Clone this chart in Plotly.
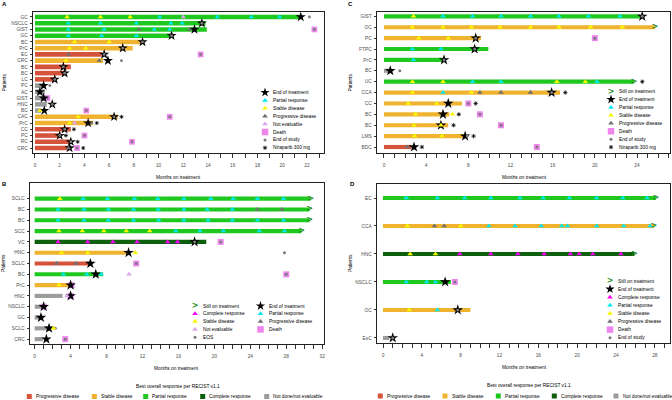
import plotly.graph_objects as go

W, H = 672, 400

# ---------------- data (months on treatment) ----------------
A_patients = ["GC", "NSCLC", "GIST", "GC", "BC", "PrC", "EC", "CRC", "BC", "BC", "LC",
              "PC", "AC", "GIST", "HNC", "BC", "CAC", "PrC", "CC", "PC", "RC", "CRC"]
A_months = [21.4, 13.8, 13.9, 11.2, 8.8, 7.9, 5.4, 5.5, 2.9, 2.45, 1.6,
            0.8, 0.8, 0.8, 0.95, 0.5, 6.7, 4.7, 2.9, 2.0, 2.9, 2.8]
A_best = ["PR", "PR", "PR", "PR", "SD", "SD", "PD", "SD", "PD", "PD", "PD",
          "NE", "NE", "NE", "NE", "NE", "SD", "SD", "PD", "PD", "PD", "PD"]
A_ongoing = []
A_end_treatment = [(0, 21.5), (1, 13.5), (2, 12.9), (3, 11.05), (4, 8.7), (5, 7.1), (6, 5.6),
                   (7, 5.9), (8, 2.3), (9, 2.4), (10, 1.6), (11, 0.7), (12, 0.4), (13, 0.7),
                   (14, 1.4), (15, 0.75), (16, 6.4), (17, 4.3), (18, 2.4), (19, 2.0), (20, 2.9), (21, 2.8)]
A_partial = [(0, 10.1), (0, 14.75), (0, 17.5), (0, 19.8), (1, 2.7), (1, 5.3), (1, 8.2), (1, 11.0),
             (1, 11.9), (2, 2.7), (2, 5.6), (2, 9.65), (2, 10.9), (3, 2.7), (3, 5.4), (3, 8.2)]
A_stable = [(0, 2.6), (0, 5.3), (0, 7.7), (4, 3.2), (4, 6.0), (5, 2.8), (5, 4.1), (7, 2.5),
            (15, 0.4), (16, 3.5), (17, 2.8)]
A_progressive = [(2, 8.4), (2, 12.5), (6, 2.7), (7, 5.2), (21, 2.7)]
A_complete = []
A_not_evaluable = [(0, 12.0), (17, 3.2)]
A_death = [(2, 22.6), (6, 13.4), (13, 1.0), (15, 4.15), (16, 10.9), (19, 4.0), (20, 7.85), (21, 3.4)]
A_end_study = [(0, 22.2), (1, 13.5), (3, 11.05), (4, 8.7), (5, 7.1), (6, 5.6), (7, 7.0), (8, 2.3),
               (9, 2.4), (10, 1.6), (11, 1.2), (14, 1.4), (16, 6.4), (17, 4.6), (18, 2.4),
               (19, 2.0), (20, 2.9)]
A_niraparib = [(16, 7.0), (17, 5.0), (18, 3.15), (19, 2.5), (20, 3.45), (21, 3.9)]

B_patients = ["SCLC", "BC", "BC", "SCC", "VC", "HNC", "SCLC", "BC", "PrC", "HNC",
              "NSCLC", "GC", "SCLC", "CRC"]
B_months = [30.7, 30.6, 30.6, 29.7, 19.1, 10.5, 6.2, 7.6, 3.8, 3.1, 0.85, 0.5, 1.8, 0.9]
B_best = ["PR", "PR", "PR", "PR", "CR", "SD", "PD", "PR", "SD", "NE", "NE", "NE", "NE", "NE"]
B_ongoing = [0, 1, 2, 3]
B_end_treatment = [(4, 17.8), (5, 10.45), (6, 6.2), (7, 6.8), (8, 4.0), (9, 4.0), (10, 1.0),
                   (11, 0.7), (12, 1.6), (13, 1.3)]
B_partial = [(0, 5.4), (0, 8.1), (0, 11.1), (0, 13.7), (0, 16.6), (0, 19.6), (0, 22.1), (0, 24.8),
             (0, 27.7), (1, 2.6), (1, 5.5), (1, 8.2), (1, 11.0), (1, 13.75), (1, 16.6), (1, 19.2),
             (1, 22.0), (2, 2.6), (2, 5.5), (2, 8.2), (2, 11.0), (2, 13.8), (2, 16.6), (2, 19.3),
             (2, 22.0), (2, 24.8), (2, 27.7), (3, 15.7), (3, 18.4), (3, 21.0), (3, 25.0), (3, 27.8),
             (7, 3.2), (7, 5.8), (7, 7.4)]
B_stable = [(0, 2.8), (3, 2.7), (3, 5.3), (3, 7.7), (3, 10.2), (3, 12.8), (5, 3.0), (5, 5.9),
            (5, 11.2), (8, 2.7), (12, 2.1)]
B_progressive = [(1, 24.8), (1, 27.5), (6, 2.45), (6, 4.6)]
B_complete = [(4, 2.6), (4, 5.9), (4, 8.7), (4, 11.4), (4, 14.8), (4, 15.9)]
B_not_evaluable = [(7, 10.5), (9, 3.6)]
B_death = [(4, 20.7), (6, 11.3), (7, 28.0), (8, 4.1), (9, 4.0), (10, 1.0), (13, 3.4)]
B_end_study = [(4, 17.8), (5, 27.8), (12, 2.3)]
B_niraparib = []

C_patients = ["GIST", "OC", "PC", "FTPC", "PrC", "BC", "UC", "CCA", "CC", "BC", "BC", "LMS", "BDC"]
C_months = [24.3, 25.7, 9.2, 9.9, 5.6, 0.4, 23.7, 16.7, 7.4, 6.2, 6.1, 7.8, 2.6]
C_best = ["PR", "SD", "SD", "PR", "PR", "NE", "PR", "SD", "SD", "SD", "SD", "SD", "PD"]
C_ongoing = [1, 6]
C_end_treatment = [(0, 24.5), (2, 8.7), (3, 8.6), (4, 5.7), (5, 0.6), (7, 15.9), (8, 6.1),
                   (9, 5.6), (10, 5.4), (11, 7.7), (12, 2.85)]
C_partial = [(0, 5.6), (0, 8.4), (0, 11.1), (0, 13.9), (0, 16.6), (0, 19.4), (0, 22.4), (3, 2.7),
             (3, 5.4), (4, 2.8), (6, 8.4), (6, 11.1), (6, 20.2), (7, 5.6)]
C_stable = [(0, 2.8), (1, 2.7), (1, 5.6), (1, 8.3), (1, 11.0), (1, 13.9), (1, 16.6), (1, 19.6),
            (1, 22.6), (2, 3.3), (2, 6.1), (6, 2.7), (6, 5.6), (6, 16.4), (6, 19.1), (7, 2.7),
            (7, 8.3), (8, 2.3), (8, 5.0), (9, 3.0), (9, 6.5), (10, 2.85), (10, 5.4), (11, 2.9), (11, 5.5)]
C_progressive = [(7, 9.1), (7, 11.1), (7, 13.9), (12, 2.2)]
C_complete = []
C_not_evaluable = []
C_death = [(2, 20.0), (8, 8.0), (9, 9.1), (10, 11.1), (12, 14.5)]
C_end_study = [(0, 24.5), (2, 8.7), (3, 8.6), (4, 5.7), (5, 1.5), (7, 15.9), (11, 7.9)]
C_niraparib = [(6, 24.5), (7, 17.2), (8, 8.7), (9, 7.1), (10, 6.6), (11, 8.5), (12, 3.6)]

D_patients = ["EC", "CCA", "HNC", "NSCLC", "OC", "EsC"]
D_months = [28.1, 27.9, 25.9, 7.0, 9.0, 0.65]
D_best = ["PR", "SD", "CR", "PR", "SD", "NE"]
D_ongoing = [0, 1, 2]
D_end_treatment = [(3, 6.4), (4, 7.7), (5, 1.0)]
D_partial = [(0, 2.4), (0, 5.6), (0, 8.4), (0, 11.1), (0, 14.1), (0, 16.5), (0, 19.2), (0, 22.0),
             (0, 24.7), (0, 27.2), (1, 10.9), (1, 13.6), (1, 16.3), (1, 18.4), (1, 19.0), (1, 22.0),
             (1, 24.8), (1, 27.5), (3, 2.4), (3, 4.5), (3, 5.4), (4, 5.6)]
D_stable = [(1, 2.5), (1, 8.0), (2, 2.8), (2, 5.4), (4, 2.7)]
D_progressive = [(1, 5.3), (1, 6.3)]
D_complete = [(2, 7.9), (2, 11.1), (2, 13.9), (2, 16.6), (2, 19.3), (2, 20.2), (2, 21.6), (2, 24.5)]
D_not_evaluable = []
D_death = [(3, 7.4)]
D_end_study = [(4, 7.7), (5, 1.0)]
D_niraparib = []

RESPONSE_CODES = ["PD", "SD", "PR", "CR", "NE"]
RESPONSE_LABELS = ["Progressive disease", "Stable disease", "Partial response",
                   "Complete response", "Not done/not evaluable"]
EVENT_LABELS = {"still": "Still on treatment", "eot": "End of treatment", "cr": "Complete response",
                "pr": "Partial response", "sd": "Stable disease", "pd": "Progressive disease",
                "ne": "Not evaluable", "death": "Death", "eos": "End of study",
                "nira": "Niraparib 300 mg"}

# ---------------- styles ----------------
FONT = "Liberation Sans, Arial, sans-serif"
FS = 4.8
TXT = "#4d4d4d"
BAR_COL = {"PD": "#D5533A", "SD": "#F0B330", "PR": "#1FC81F", "CR": "#0D5E0D", "NE": "#9C9C9C"}
ARROW_COL = "#188A18"
STYLE = {
    "eot": dict(symbol="star", color="black", size=8, line=dict(width=0)),
    "pr": dict(symbol="triangle-up", color="#00E8F2", size=5, line=dict(width=0)),
    "sd": dict(symbol="triangle-up", color="#F8F800", size=5, line=dict(width=0)),
    "pd": dict(symbol="triangle-up", color="#707070", size=5, line=dict(width=0)),
    "cr": dict(symbol="triangle-up", color="#FF00FF", size=5, line=dict(width=0)),
    "ne": dict(symbol="triangle-up", color="#DCA4EC", size=5, line=dict(width=0)),
    "death": dict(symbol="square", color="#EE86EE", size=6, line=dict(width=0)),
    "eos": dict(symbol="circle", color="#7A7A7A", size=3, line=dict(width=0)),
    "nira": dict(symbol="asterisk-open", color="black", size=3.5, line=dict(color="#222", width=0.8)),
}

fig = go.Figure()


def px(x):
    return x / W


def py(y):
    return 1 - y / H


def add_panel(k, months, best, ongoing, events, bw, scale):
    xa, ya = f"x{k}", f"y{k}"
    for code in RESPONSE_CODES:
        rows = [i for i, b in enumerate(best) if b == code]
        if rows:
            fig.add_trace(go.Bar(orientation="h", y=rows, x=[months[i] for i in rows], base=0,
                                 width=bw, marker=dict(color=BAR_COL[code], line=dict(width=0)),
                                 xaxis=xa, yaxis=ya, showlegend=False, hoverinfo="skip"))
    if ongoing:
        fig.add_trace(go.Scatter(x=[months[i] for i in ongoing], y=ongoing, mode="text",
                                 text=[">"] * len(ongoing),
                                 textfont=dict(size=8 * scale, color=ARROW_COL, family="DejaVu Sans",
                                               weight="bold"),
                                 xaxis=xa, yaxis=ya, showlegend=False, hoverinfo="skip"))

    def pts(key, data):
        if not data:
            return
        st = dict(STYLE[key])
        st["size"] = st["size"] * scale
        fig.add_trace(go.Scatter(x=[d[1] for d in data], y=[d[0] for d in data], mode="markers",
                                 marker=st, xaxis=xa, yaxis=ya, showlegend=False, hoverinfo="skip"))

    pts("death", events["death"])
    pts("eos", events["death"])  # grey dot at centre of death square
    pts("eot", events["eot"])
    pts("eos", events["eos"])
    for key in ["pd", "ne", "sd", "pr", "cr"]:
        pts(key, events[key])
    pts("nira", events["nira"])


def add_axes(k, dom_px, x_range, n, pad_top, pad_bot, labels, dtick):
    x0, y0, x1, y1 = dom_px
    fig.layout[f"xaxis{k}"] = dict(
        domain=[px(x0), px(x1)], range=x_range, anchor=f"y{k}", tick0=0, dtick=dtick,
        ticks="outside", ticklen=4, tickwidth=0.6, tickcolor="#333", ticklabelstandoff=3,
        minor=dict(dtick=1, tick0=0, ticks="outside", ticklen=4, tickwidth=0.6, tickcolor="#333",
                   showgrid=False),
        showline=True, mirror=True, linecolor="#222", linewidth=0.8, showgrid=False,
        zeroline=False, tickfont=dict(size=FS, color=TXT, family=FONT), fixedrange=True,
        automargin=False)
    fig.layout[f"yaxis{k}"] = dict(
        domain=[py(y1), py(y0)], range=[n - 1 + pad_bot, -pad_top], anchor=f"x{k}",
        tickmode="array", tickvals=list(range(n)), ticktext=labels,
        ticks="outside", ticklen=2.5, tickwidth=0.6, tickcolor="#333", ticklabelstandoff=1,
        showline=True, mirror=True, linecolor="#222", linewidth=0.8, showgrid=False,
        zeroline=False, tickfont=dict(size=FS, color=TXT, family=FONT), fixedrange=True,
        automargin=False)


def ev(prefix):
    g = globals()
    return {"eot": g[prefix + "_end_treatment"], "pr": g[prefix + "_partial"],
            "sd": g[prefix + "_stable"], "pd": g[prefix + "_progressive"],
            "cr": g[prefix + "_complete"], "ne": g[prefix + "_not_evaluable"],
            "death": g[prefix + "_death"], "eos": g[prefix + "_end_study"],
            "nira": g[prefix + "_niraparib"]}


add_panel(1, A_months, A_best, A_ongoing, ev("A"), 0.74, 0.95)
add_panel(2, B_months, B_best, B_ongoing, ev("B"), 0.38, 1.0)
add_panel(3, C_months, C_best, C_ongoing, ev("C"), 0.38, 1.0)
add_panel(4, D_months, D_best, D_ongoing, ev("D"), 0.145, 1.0)

add_axes(1, (33, 12, 324, 153), [-0.16, 23.38], len(A_patients), 0.8, 0.8, A_patients, 2)
add_axes(2, (30, 183, 324, 344), [-0.52, 32.2], len(B_patients), 1.45, 0.45, B_patients, 4)
add_axes(3, (377, 12, 670, 153), [-0.66, 27.13], len(C_patients), 0.4, 0.55, C_patients, 4)
add_axes(4, (377, 184, 670, 343), [-0.62, 29.56], len(D_patients), 0.5, 0.18, D_patients, 4)

# overlay pixel axes for hand-placed legends
fig.layout["xaxis5"] = dict(domain=[0, 1], range=[0, W], anchor="y5", visible=False, fixedrange=True)
fig.layout["yaxis5"] = dict(domain=[0, 1], range=[H, 0], anchor="x5", visible=False, fixedrange=True)

ann = []


def text(x, y, s, size=FS, anchor="left", color="black", angle=0, bold=False):
    ann.append(dict(x=px(x), y=py(y), xref="paper", yref="paper", text=f"<b>{s}</b>" if bold else s,
                    showarrow=False, xanchor=anchor, yanchor="middle", textangle=angle,
                    font=dict(size=size, color=color, family=FONT)))


def glyph(key, x, y):
    if key == "still":
        fig.add_trace(go.Scatter(x=[x], y=[y], mode="text", text=[">"], xaxis="x5", yaxis="y5",
                                 textfont=dict(size=8, color=ARROW_COL, family="DejaVu Sans", weight="bold"),
                                 showlegend=False, hoverinfo="skip"))
        return
    st = dict(STYLE[key])
    if key == "eot":
        st["size"] = 7
    if key == "death":
        st["size"] = 6.5
    fig.add_trace(go.Scatter(x=[x], y=[y], mode="markers", marker=st, xaxis="x5", yaxis="y5",
                             showlegend=False, hoverinfo="skip"))


def legend_block(keys, xs, xt, y0, dy, rename=None):
    for i, key in enumerate(keys):
        y = y0 + i * dy
        glyph(key, xs, y)
        lab = (rename or {}).get(key, EVENT_LABELS[key])
        text(xt, y, lab)


legend_block(["eot", "pr", "sd", "pd", "ne", "death", "eos", "nira"], 265, 271, 92.5, 7.9)
legend_block(["still", "cr", "sd", "ne", "eos"], 195, 201, 306, 7.8, rename={"eos": "EOS"})
legend_block(["eot", "pr", "pd", "death"], 260.5, 267, 306, 7.8)
legend_block(["still", "eot", "pr", "sd", "pd", "death", "eos", "nira"], 611, 617, 91.5, 7.95)
legend_block(["still", "eot", "cr", "pr", "sd", "pd", "death", "eos"], 610, 616, 281, 8.1)

# bottom response legends
B_swatch_x = [29.3, 94.3, 145.7, 202.7, 266.7]
D_swatch_x = [380.3, 445, 498.3, 554.3, 616]
for xs_list, yrow, title_x, title_y in [(B_swatch_x, 396.5, 178, 386), (D_swatch_x, 396, 529, 385)]:
    text(title_x, title_y, "Best overall response per RECIST v1.1", anchor="center")
    for code, lab, xs in zip(RESPONSE_CODES, RESPONSE_LABELS, xs_list):
        fig.add_trace(go.Scatter(x=[xs], y=[yrow], mode="markers", xaxis="x5", yaxis="y5",
                                 marker=dict(symbol="square", size=5, color=BAR_COL[code], line=dict(width=0)),
                                 showlegend=False, hoverinfo="skip"))
        text(xs + 4.7, yrow, lab)

# titles and panel letters
text(178, 177, "Months on treatment", anchor="center")
text(176, 368, "Months on treatment", anchor="center")
text(524, 177, "Months on treatment", anchor="center")
text(524, 367, "Months on treatment", anchor="center")
for x, y in [(4, 82.5), (3.5, 263.5), (350, 82.5), (350.5, 263.5)]:
    text(x, y, "Patients", anchor="center", angle=-90)
for lab, x, y in [("A", 4.5, 4), ("B", 4.5, 184), ("C", 350.5, 4), ("D", 352, 184.5)]:
    text(x, y, lab, size=6, anchor="center", bold=True)

fig.update_layout(width=W, height=H, margin=dict(l=0, r=0, t=0, b=0), barmode="overlay",
                  paper_bgcolor="white", plot_bgcolor="rgba(0,0,0,0)", showlegend=False,
                  annotations=ann, font=dict(family=FONT, size=FS, color="black"))

fig.write_html("out.html", config={"displayModeBar": False},
               post_script="document.body.style.margin='0';document.body.style.padding='0';")
